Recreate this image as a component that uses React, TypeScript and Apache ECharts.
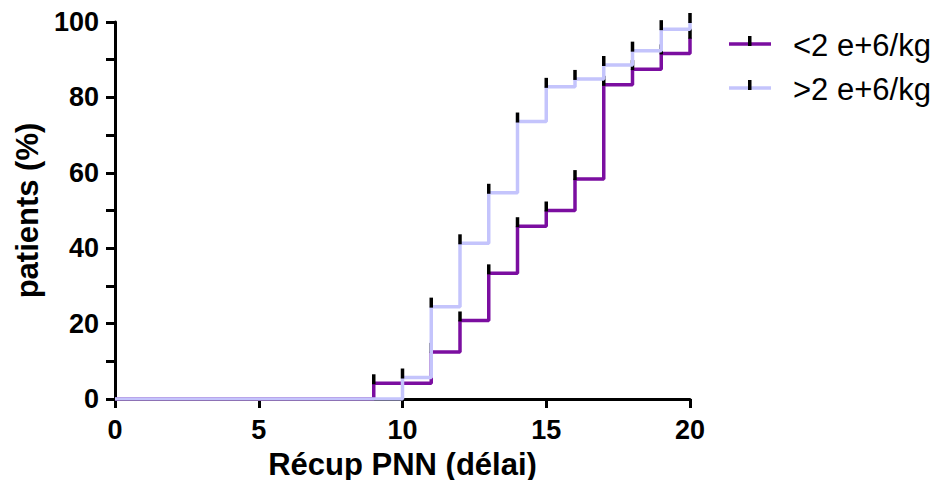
import React, { useEffect, useRef } from "react";
import * as echarts from "echarts";

// Days to neutrophil recovery (x) vs cumulative % of patients recovered (y)
const xTicks = [0, 5, 10, 15, 20];
const groupLowLabel = "<2 e+6/kg";
const groupHighLabel = ">2 e+6/kg";

const lowDays = [0, 9, 11, 12, 13, 14, 15, 16, 17, 18, 19, 20];
const lowPct = [0, 4.17, 12.5, 20.83, 33.33, 45.83, 50, 58.33, 83.33, 87.5, 91.67, 95.83];

const highDays = [0, 10, 11, 12, 13, 14, 15, 16, 17, 18, 19, 20];
const highPct = [0, 5.7, 24.5, 41.3, 54.7, 73.6, 82.8, 84.9, 88.6, 92.4, 98.1, 100];

const LOW_COLOR = "#7b0ea0";
const HIGH_COLOR = "#c4c4fc";
const FONT = "'Liberation Sans', Arial, sans-serif";

const pairs = (xs: number[], ys: number[]) => xs.map((x, i) => [x, ys[i]]);

export default function App() {
  const ref = useRef<HTMLDivElement>(null);

  useEffect(() => {
    if (!ref.current) return;
    const chart = echarts.init(ref.current, null, { renderer: "svg" });

    const stepLine = (name: string, xs: number[], ys: number[], color: string, z: number) => ({
      name,
      type: "line",
      step: "end",
      data: pairs(xs, ys),
      showSymbol: false,
      symbol: "none",
      lineStyle: { color, width: 3.5 },
      z,
    });

    // event marks: short black bars sitting on each step
    const marks = (name: string, xs: number[], ys: number[], z: number) => ({
      name: name + "-marks",
      type: "scatter",
      data: pairs(xs, ys).filter((p) => p[0] > 0),
      symbol: "rect",
      symbolSize: [3.5, 10],
      symbolOffset: [0, -4],
      itemStyle: { color: "#000", opacity: 1 },
      z,
    });

    const legendItem = (y: number, color: string, label: string) => [
      {
        type: "line",
        shape: { x1: 729, y1: y, x2: 771, y2: y },
        style: { stroke: color, lineWidth: 3.5 },
      },
      {
        type: "rect",
        shape: { x: 748, y: y - 8, width: 3.5, height: 10 },
        style: { fill: "#000" },
      },
      {
        type: "text",
        x: 793,
        y: y + 1,
        style: {
          text: label,
          font: `31px ${FONT}`,
          fill: "#000",
          verticalAlign: "middle",
        },
      },
    ];

    chart.setOption({
      animation: false,
      backgroundColor: "#fff",
      grid: { left: 115, right: 248, top: 22, bottom: 89, containLabel: false },
      xAxis: {
        type: "value",
        min: 0,
        max: 20,
        interval: 5,
        name: "Récup PNN (délai)",
        nameLocation: "middle",
        nameGap: 50,
        nameTextStyle: { fontFamily: FONT, fontWeight: "bold", fontSize: 31, color: "#000" },
        axisLine: { show: true, onZero: false, lineStyle: { color: "#000", width: 3 } },
        axisTick: { show: true, inside: false, length: 9, lineStyle: { color: "#000", width: 3 } },
        axisLabel: {
          margin: 17,
          fontFamily: FONT,
          fontWeight: "bold",
          fontSize: 27,
          color: "#000",
          customValues: xTicks,
        },
        splitLine: { show: false },
      },
      yAxis: {
        type: "value",
        min: 0,
        max: 100,
        interval: 20,
        name: "patients (%)",
        nameLocation: "middle",
        nameGap: 70,
        nameTextStyle: { fontFamily: FONT, fontWeight: "bold", fontSize: 31, color: "#000" },
        axisLine: { show: true, onZero: false, lineStyle: { color: "#000", width: 3 } },
        axisTick: { show: true, inside: false, length: 9, lineStyle: { color: "#000", width: 3 } },
        minorTick: { show: true, splitNumber: 2, length: 9, lineStyle: { color: "#000", width: 3 } },
        axisLabel: {
          margin: 16,
          fontFamily: FONT,
          fontWeight: "bold",
          fontSize: 27,
          color: "#000",
        },
        splitLine: { show: false },
      },
      series: [
        stepLine(groupLowLabel, lowDays, lowPct, LOW_COLOR, 2),
        marks(groupLowLabel, lowDays, lowPct, 3),
        stepLine(groupHighLabel, highDays, highPct, HIGH_COLOR, 4),
        marks(groupHighLabel, highDays, highPct, 5),
      ],
      graphic: [
        ...legendItem(44, LOW_COLOR, groupLowLabel),
        ...legendItem(88, HIGH_COLOR, groupHighLabel),
      ],
    });

    return () => chart.dispose();
  }, []);

  return <div ref={ref} style={{ width: 938, height: 488, margin: -8 }} />;
}
